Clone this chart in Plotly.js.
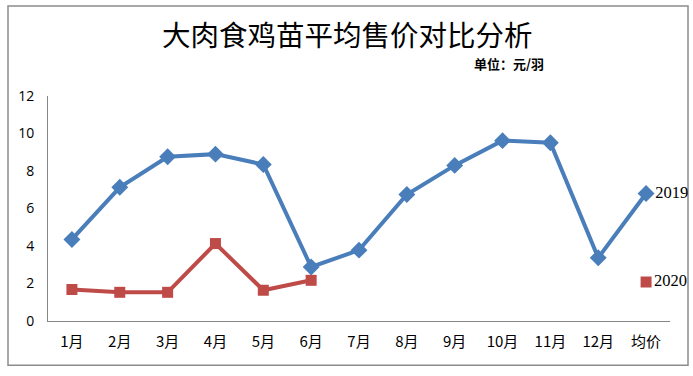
<!DOCTYPE html>
<html>
<head>
<meta charset="utf-8">
<script src="https://cdn.plot.ly/plotly-3.0.1.min.js"></script>
<style>
html,body{margin:0;padding:0;background:#fff;}
#chart{width:693px;height:376px;}
</style>
</head>
<body>
<div id="chart"></div>
<script>
var categories = ['1月','2月','3月','4月','5月','6月','7月','8月','9月','10月','11月','12月','均价'];
var series2019 = [4.35, 7.13, 8.76, 8.9, 8.35, 2.88, 3.78, 6.75, 8.3, 9.62, 9.51, 3.37, 6.8];
var series2020 = [1.68, 1.53, 1.53, 4.13, 1.64, 2.17, null, null, null, null, null, null, 2.08];
var yTicks = [0, 2, 4, 6, 8, 10, 12];
var titleText = '大肉食鸡苗平均售价对比分析';
var unitText = '单位：元/羽';

function lastLabel(arr, name){
  return arr.map(function(v,i){ return i === arr.length-1 ? name : ''; });
}

var traces = [
  {
    x: categories, y: series2019, name: '2019', type: 'scatter', mode: 'lines+markers+text',
    line: {color: '#4A7EBB', width: 4},
    marker: {symbol: 'diamond', size: 13, color: '#4A7EBB'},
    text: lastLabel(series2019, '2019'), textposition: 'middle right',
    textfont: {family: 'Liberation Serif, DejaVu Serif, serif', size: 16.5, color: '#000'},
    cliponaxis: false, hoverinfo: 'x+y'
  },
  {
    x: categories, y: series2020, name: '2020', type: 'scatter', mode: 'lines+markers+text',
    connectgaps: false,
    line: {color: '#BE4B48', width: 4},
    marker: {symbol: 'square', size: 11, color: '#BE4B48'},
    text: lastLabel(series2020, '2020'), textposition: 'middle right',
    textfont: {family: 'Liberation Serif, DejaVu Serif, serif', size: 16.5, color: '#000'},
    cliponaxis: false, hoverinfo: 'x+y'
  }
];

var layout = {
  width: 693, height: 376,
  margin: {l: 48, r: 23, t: 96, b: 55.3, pad: 0},
  paper_bgcolor: '#fff', plot_bgcolor: '#fff',
  showlegend: false,
  xaxis: {
    type: 'category', range: [-0.5, 12.5],
    showline: true, linecolor: '#868686', linewidth: 1,
    showgrid: false, zeroline: false, ticks: '', ticklabelstandoff: 7,
    tickfont: {family: 'Noto Sans CJK SC, Noto Sans, sans-serif', size: 15, color: '#000'},
    fixedrange: true
  },
  yaxis: {
    range: [0, 12], tickvals: yTicks, ticktext: yTicks.map(String),
    showline: true, linecolor: '#868686', linewidth: 1,
    showgrid: false, zeroline: false, ticks: '', ticklabelstandoff: 10,
    tickfont: {family: 'Open Sans, Noto Sans, sans-serif', size: 14, color: '#000'},
    fixedrange: true
  },
  annotations: [
    {text: titleText, xref: 'paper', yref: 'paper', x: (347-48)/622, y: (320.7-34)/224.7,
     xanchor: 'center', yanchor: 'middle', showarrow: false,
     font: {family: 'Noto Sans CJK SC', size: 28.5, color: '#000'}},
    {text: '<b>' + unitText + '</b>', xref: 'paper', yref: 'paper', x: (546-48)/622, y: (320.7-64)/224.7,
     xanchor: 'right', yanchor: 'middle', showarrow: false,
     font: {family: 'Noto Sans CJK SC', size: 13, color: '#000'}}
  ],
  shapes: [
    {type: 'rect', xref: 'paper', yref: 'paper',
     x0: (8-48)/622, x1: (688-48)/622, y0: (320.7-365)/224.7, y1: (320.7-6)/224.7,
     line: {color: '#8C8C8C', width: 1.5}, fillcolor: 'rgba(0,0,0,0)', layer: 'below'}
  ]
};

Plotly.newPlot('chart', traces, layout, {displayModeBar: false, staticPlot: true});
</script>
</body>
</html>
